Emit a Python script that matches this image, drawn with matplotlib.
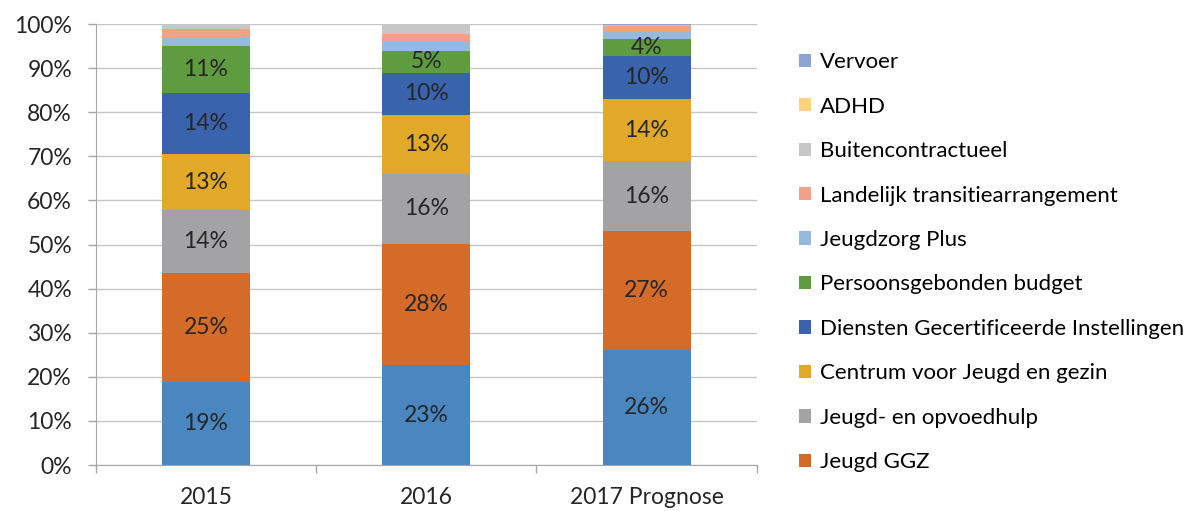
import matplotlib
matplotlib.use("Agg")
import matplotlib.pyplot as plt
from matplotlib.patches import Patch
import numpy as np

plt.rcParams['font.family'] = ['Lato', 'DejaVu Sans']

years = ["2015", "2016", "2017 Prognose"]
series_names = ["Jeugd", "Jeugd GGZ", "Jeugd- en opvoedhulp", "Centrum voor Jeugd en gezin",
                "Diensten Gecertificeerde Instellingen", "Persoonsgebonden budget",
                "Jeugdzorg Plus", "Landelijk transitiearrangement", "Buitencontractueel",
                "ADHD", "Vervoer"]
jeugd = [18.8, 22.6, 26.1]
jeugd_ggz = [24.7, 27.6, 27.0]
opvoedhulp = [14.3, 15.9, 15.8]
cjg = [12.7, 13.3, 14.1]
dgi = [13.9, 9.6, 9.8]
pgb = [10.6, 4.8, 3.9]
jeugdzorg_plus = [2.1, 2.2, 1.8]
landelijk = [1.7, 1.7, 1.0]
buiten = [1.2, 2.3, 0.2]
adhd = [0.0, 0.0, 0.0]
vervoer = [0.0, 0.0, 0.3]
series = [jeugd, jeugd_ggz, opvoedhulp, cjg, dgi, pgb, jeugdzorg_plus, landelijk, buiten, adhd, vervoer]
colors = ["#4a87c1", "#d46b29", "#a3a3a5", "#e2a928", "#3a63ad", "#5f9b3f",
          "#97b9e0", "#f1a286", "#c7c7c7", "#ffd27f", "#8fa2d4"]

txt = "#262626"
fig = plt.figure(figsize=(11.89, 5.11), dpi=100)
ax = fig.add_axes([0.0805, 0.09, 0.556, 0.863])

x = np.arange(len(years))
bottom = np.zeros(len(years))
for name, vals, c in zip(series_names, series, colors):
    vals = np.array(vals)
    ax.bar(x, vals, 0.4, bottom=bottom, color=c, zorder=2)
    for xi, v, b in zip(x, vals, bottom):
        if v >= 3.5:
            ax.text(xi, b + v / 2, f"{round(v)}%", ha="center", va="center",
                    fontsize=16.5, color=txt, zorder=3)
    bottom += vals

ax.set_xlim(-0.5, 2.5)
ax.set_ylim(0, 100)
ax.set_yticks(np.arange(0, 101, 10))
ax.set_yticklabels([f"{v}%" for v in range(0, 101, 10)])
ax.set_xticks(x)
ax.set_xticklabels(years)
ax.set_xticks([-0.5, 0.5, 1.5, 2.5], minor=True)
ax.tick_params(axis="x", which="major", length=0, labelsize=16.5, colors=txt, pad=16)
ax.tick_params(axis="x", which="minor", length=6, color="#a6a6a6", width=1)
ax.tick_params(axis="y", length=6, color="#a6a6a6", width=1, labelsize=16.5,
               labelcolor=txt, pad=11)
ax.grid(axis="y", color="#c6c6c6", linewidth=1, zorder=0)
for s in ["top", "right"]:
    ax.spines[s].set_visible(False)
ax.spines["bottom"].set_color("#a6a6a6")
ax.spines["left"].set_color("#a6a6a6")

handles = [Patch(facecolor=c, label=n) for n, c in zip(series_names[1:], colors[1:])][::-1]
fig.legend(handles=handles, loc="upper left", bbox_to_anchor=(0.655, 0.937),
           frameon=False, fontsize=16, labelspacing=1.1, handlelength=0.55,
           handleheight=0.55, handletextpad=0.4)

fig.savefig("out.png", dpi=100)
